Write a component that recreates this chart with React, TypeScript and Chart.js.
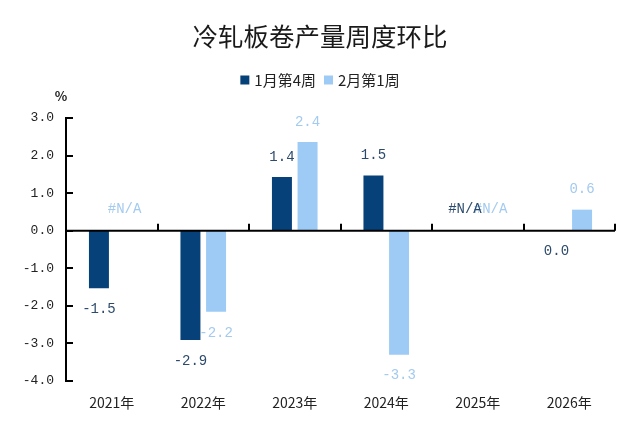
import React, { useEffect, useRef } from "react";
import { Chart, registerables } from "chart.js";

Chart.register(...registerables);

const chartTitle = "冷轧板卷产量周度环比";
const unitLabel = "%";
const categories = ["2021年", "2022年", "2023年", "2024年", "2025年", "2026年"];
const seriesNames = ["1月第4周", "2月第1周"];
const janWeek4: (number | null)[] = [-1.53, -2.91, 1.43, 1.47, null, 0.0];
const febWeek1: (number | null)[] = [null, -2.16, 2.36, -3.3, null, 0.56];
const yMin = -4;
const yMax = 3;
const yStep = 1;

const barColors = ["#074179", "#9DCBF6"];
const labelColors = ["#2C4B6C", "#A3CAEF"];

const MONO = "'Liberation Mono', 'DejaVu Sans Mono', monospace";
const CJK = "'Noto Sans CJK SC', 'Noto Sans', sans-serif";

const decorPlugin = {
  id: "decor",
  afterDatasetsDraw(chart: any) {
    const ctx: CanvasRenderingContext2D = chart.ctx;
    const { left, right } = chart.chartArea;
    const xs = chart.scales.x;
    const ys = chart.scales.y;
    const y0 = ys.getPixelForValue(0);
    ctx.save();

    // zero axis line
    ctx.strokeStyle = "#000";
    ctx.lineWidth = 2;
    ctx.beginPath();
    ctx.moveTo(left, y0);
    ctx.lineTo(right, y0);
    ctx.stroke();

    // category boundary ticks (pointing up)
    const step = xs.getPixelForValue(1) - xs.getPixelForValue(0);
    for (let i = 0; i < categories.length; i++) {
      const bx = Math.round(xs.getPixelForValue(i) + step / 2);
      ctx.beginPath();
      ctx.moveTo(bx, y0);
      ctx.lineTo(bx, y0 - 7);
      ctx.stroke();
    }

    // y ticks pointing inward
    ys.ticks.forEach((t: any) => {
      const py = Math.round(ys.getPixelForValue(t.value));
      ctx.beginPath();
      ctx.moveTo(left, py);
      ctx.lineTo(left + 7, py);
      ctx.stroke();
    });

    // data labels
    ctx.font = `14px ${MONO}`;
    ctx.textAlign = "center";
    ctx.textBaseline = "middle";
    const order = [1, 0];
    order.forEach((d) => {
      const meta = chart.getDatasetMeta(d);
      const data = chart.data.datasets[d].data as (number | null)[];
      ctx.fillStyle = labelColors[d];
      meta.data.forEach((el: any, i: number) => {
        const v = data[i];
        let text: string;
        let py: number;
        if (v === null || v === undefined) {
          text = "#N/A";
          py = y0 - 21;
        } else if (v > 0) {
          text = v.toFixed(1);
          py = el.y - 20;
        } else {
          text = v.toFixed(1);
          py = el.y + 21;
        }
        ctx.fillText(text, el.x, py);
      });
    });

    // title
    ctx.fillStyle = "#1A1A1A";
    ctx.font = `25.5px ${CJK}`;
    ctx.textAlign = "center";
    ctx.fillText(chartTitle, 320, 36);

    // legend
    ctx.font = `15px ${CJK}`;
    ctx.textAlign = "left";
    const box = 9;
    const gapText = 5;
    const gapItem = 8;
    const widths = seriesNames.map((s) => box + gapText + ctx.measureText(s).width);
    const total = widths.reduce((a, b) => a + b, 0) + gapItem * (seriesNames.length - 1);
    let lx = 320 - total / 2;
    const ly = 80;
    seriesNames.forEach((s, i) => {
      ctx.fillStyle = barColors[i];
      ctx.fillRect(lx, ly - box / 2, box, box);
      ctx.fillStyle = "#222";
      ctx.fillText(s, lx + box + gapText, ly);
      lx += widths[i] + gapItem;
    });

    // unit
    ctx.font = `bold 13px ${CJK}`;
    ctx.textAlign = "center";
    ctx.fillStyle = "#222";
    ctx.fillText(unitLabel, 61, 96);

    ctx.restore();
  },
};

export default function App() {
  const canvasRef = useRef<HTMLCanvasElement | null>(null);

  useEffect(() => {
    document.body.style.margin = "0";
    const canvas = canvasRef.current;
    if (!canvas) return;
    const chart = new Chart(canvas, {
      type: "bar",
      data: {
        labels: categories,
        datasets: [
          {
            label: seriesNames[0],
            data: janWeek4 as any,
            backgroundColor: barColors[0],
            categoryPercentage: 0.56,
            barPercentage: 0.78,
          },
          {
            label: seriesNames[1],
            data: febWeek1 as any,
            backgroundColor: barColors[1],
            categoryPercentage: 0.56,
            barPercentage: 0.78,
          },
        ],
      },
      options: {
        animation: false,
        responsive: false,
        devicePixelRatio: 1,
        layout: { padding: { top: 118, right: 15, left: 0, bottom: 0 } },
        plugins: {
          legend: { display: false },
          title: { display: false },
          tooltip: { enabled: false },
        },
        scales: {
          x: {
            grid: { display: false, drawTicks: false },
            border: { display: false },
            ticks: {
              color: "#222",
              font: { family: CJK, size: 14 },
              padding: 13,
              maxRotation: 0,
            },
            afterFit: (scale: any) => {
              scale.height = 44;
            },
          },
          y: {
            min: yMin,
            max: yMax,
            grid: { display: false, drawTicks: false },
            border: { display: true, color: "#000", width: 2 },
            ticks: {
              stepSize: yStep,
              color: "#222",
              font: { family: MONO, size: 13 },
              padding: 12,
              callback: (v: any) => Number(v).toFixed(1),
            },
            afterFit: (scale: any) => {
              scale.width = 66;
            },
          },
        },
      },
      plugins: [decorPlugin],
    });
    return () => chart.destroy();
  }, []);

  return (
    <div style={{ width: 630, height: 425 }}>
      <canvas ref={canvasRef} width={630} height={425} />
    </div>
  );
}
